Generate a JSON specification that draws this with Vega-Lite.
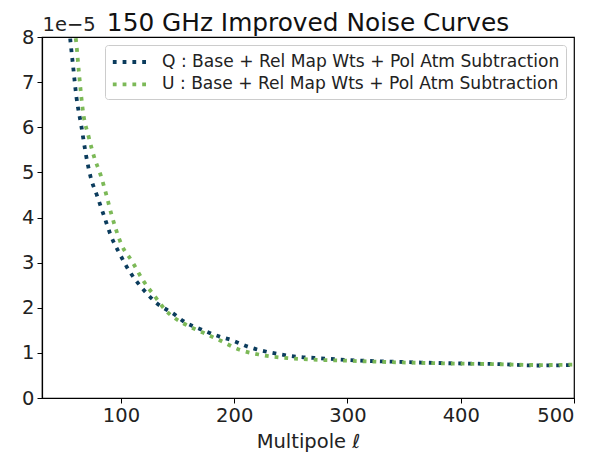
{
  "$schema": "https://vega.github.io/schema/vega-lite/v6.json",
  "autosize": {"type": "none"},
  "padding": {"left": 42, "top": 37, "right": 23, "bottom": 56},
  "width": 532,
  "height": 361,
  "background": "white",
  "title": {
    "text": "150 GHz Improved Noise Curves",
    "font": "DejaVu Sans",
    "fontSize": 24.8,
    "fontWeight": "normal",
    "color": "#111",
    "anchor": "middle",
    "offset": -22
  },
  "data": {
    "values": [
      {"series": "Q : Base + Rel Map Wts + Pol Atm Subtraction", "ell": 53.5, "noise": 8.4e-5},
      {"series": "Q : Base + Rel Map Wts + Pol Atm Subtraction", "ell": 55.6, "noise": 7.86e-5},
      {"series": "Q : Base + Rel Map Wts + Pol Atm Subtraction", "ell": 57.6, "noise": 7.39e-5},
      {"series": "Q : Base + Rel Map Wts + Pol Atm Subtraction", "ell": 60.6, "noise": 6.69e-5},
      {"series": "Q : Base + Rel Map Wts + Pol Atm Subtraction", "ell": 65.0, "noise": 6.03e-5},
      {"series": "Q : Base + Rel Map Wts + Pol Atm Subtraction", "ell": 69.4, "noise": 5.35e-5},
      {"series": "Q : Base + Rel Map Wts + Pol Atm Subtraction", "ell": 73.2, "noise": 4.90e-5},
      {"series": "Q : Base + Rel Map Wts + Pol Atm Subtraction", "ell": 79.1, "noise": 4.47e-5},
      {"series": "Q : Base + Rel Map Wts + Pol Atm Subtraction", "ell": 85.0, "noise": 4.04e-5},
      {"series": "Q : Base + Rel Map Wts + Pol Atm Subtraction", "ell": 90.9, "noise": 3.61e-5},
      {"series": "Q : Base + Rel Map Wts + Pol Atm Subtraction", "ell": 98.8, "noise": 3.20e-5},
      {"series": "Q : Base + Rel Map Wts + Pol Atm Subtraction", "ell": 107.7, "noise": 2.80e-5},
      {"series": "Q : Base + Rel Map Wts + Pol Atm Subtraction", "ell": 118.9, "noise": 2.43e-5},
      {"series": "Q : Base + Rel Map Wts + Pol Atm Subtraction", "ell": 131.2, "noise": 2.11e-5},
      {"series": "Q : Base + Rel Map Wts + Pol Atm Subtraction", "ell": 147.4, "noise": 1.85e-5},
      {"series": "Q : Base + Rel Map Wts + Pol Atm Subtraction", "ell": 154.7, "noise": 1.71e-5},
      {"series": "Q : Base + Rel Map Wts + Pol Atm Subtraction", "ell": 170.9, "noise": 1.52e-5},
      {"series": "Q : Base + Rel Map Wts + Pol Atm Subtraction", "ell": 187.1, "noise": 1.36e-5},
      {"series": "Q : Base + Rel Map Wts + Pol Atm Subtraction", "ell": 196.8, "noise": 1.29e-5},
      {"series": "Q : Base + Rel Map Wts + Pol Atm Subtraction", "ell": 213.0, "noise": 1.13e-5},
      {"series": "Q : Base + Rel Map Wts + Pol Atm Subtraction", "ell": 240.0, "noise": 0.97e-5},
      {"series": "Q : Base + Rel Map Wts + Pol Atm Subtraction", "ell": 257.7, "noise": 0.91e-5},
      {"series": "Q : Base + Rel Map Wts + Pol Atm Subtraction", "ell": 276.8, "noise": 0.88e-5},
      {"series": "Q : Base + Rel Map Wts + Pol Atm Subtraction", "ell": 302.0, "noise": 0.84e-5},
      {"series": "Q : Base + Rel Map Wts + Pol Atm Subtraction", "ell": 346.0, "noise": 0.80e-5},
      {"series": "Q : Base + Rel Map Wts + Pol Atm Subtraction", "ell": 390.0, "noise": 0.77e-5},
      {"series": "Q : Base + Rel Map Wts + Pol Atm Subtraction", "ell": 434.0, "noise": 0.75e-5},
      {"series": "Q : Base + Rel Map Wts + Pol Atm Subtraction", "ell": 466.8, "noise": 0.72e-5},
      {"series": "Q : Base + Rel Map Wts + Pol Atm Subtraction", "ell": 500.0, "noise": 0.73e-5},
      {"series": "U : Base + Rel Map Wts + Pol Atm Subtraction", "ell": 57.5, "noise": 8.4e-5},
      {"series": "U : Base + Rel Map Wts + Pol Atm Subtraction", "ell": 60.6, "noise": 7.86e-5},
      {"series": "U : Base + Rel Map Wts + Pol Atm Subtraction", "ell": 63.0, "noise": 7.19e-5},
      {"series": "U : Base + Rel Map Wts + Pol Atm Subtraction", "ell": 66.5, "noise": 6.35e-5},
      {"series": "U : Base + Rel Map Wts + Pol Atm Subtraction", "ell": 71.5, "noise": 5.79e-5},
      {"series": "U : Base + Rel Map Wts + Pol Atm Subtraction", "ell": 76.2, "noise": 5.35e-5},
      {"series": "U : Base + Rel Map Wts + Pol Atm Subtraction", "ell": 82.1, "noise": 4.94e-5},
      {"series": "U : Base + Rel Map Wts + Pol Atm Subtraction", "ell": 87.1, "noise": 4.50e-5},
      {"series": "U : Base + Rel Map Wts + Pol Atm Subtraction", "ell": 91.5, "noise": 4.08e-5},
      {"series": "U : Base + Rel Map Wts + Pol Atm Subtraction", "ell": 100.3, "noise": 3.41e-5},
      {"series": "U : Base + Rel Map Wts + Pol Atm Subtraction", "ell": 110.0, "noise": 3.02e-5},
      {"series": "U : Base + Rel Map Wts + Pol Atm Subtraction", "ell": 119.4, "noise": 2.61e-5},
      {"series": "U : Base + Rel Map Wts + Pol Atm Subtraction", "ell": 129.7, "noise": 2.26e-5},
      {"series": "U : Base + Rel Map Wts + Pol Atm Subtraction", "ell": 140.0, "noise": 1.93e-5},
      {"series": "U : Base + Rel Map Wts + Pol Atm Subtraction", "ell": 156.2, "noise": 1.64e-5},
      {"series": "U : Base + Rel Map Wts + Pol Atm Subtraction", "ell": 172.4, "noise": 1.45e-5},
      {"series": "U : Base + Rel Map Wts + Pol Atm Subtraction", "ell": 187.1, "noise": 1.28e-5},
      {"series": "U : Base + Rel Map Wts + Pol Atm Subtraction", "ell": 204.8, "noise": 1.07e-5},
      {"series": "U : Base + Rel Map Wts + Pol Atm Subtraction", "ell": 222.4, "noise": 0.96e-5},
      {"series": "U : Base + Rel Map Wts + Pol Atm Subtraction", "ell": 248.9, "noise": 0.88e-5},
      {"series": "U : Base + Rel Map Wts + Pol Atm Subtraction", "ell": 269.5, "noise": 0.85e-5},
      {"series": "U : Base + Rel Map Wts + Pol Atm Subtraction", "ell": 295.7, "noise": 0.83e-5},
      {"series": "U : Base + Rel Map Wts + Pol Atm Subtraction", "ell": 331.0, "noise": 0.80e-5},
      {"series": "U : Base + Rel Map Wts + Pol Atm Subtraction", "ell": 380.0, "noise": 0.77e-5},
      {"series": "U : Base + Rel Map Wts + Pol Atm Subtraction", "ell": 430.0, "noise": 0.75e-5},
      {"series": "U : Base + Rel Map Wts + Pol Atm Subtraction", "ell": 470.0, "noise": 0.73e-5},
      {"series": "U : Base + Rel Map Wts + Pol Atm Subtraction", "ell": 500.0, "noise": 0.74e-5}
    ]
  },
  "mark": {
    "type": "line",
    "clip": true,
    "interpolate": "monotone",
    "strokeWidth": 3.8,
    "strokeDash": [3.8, 6],
    "strokeCap": "butt"
  },
  "encoding": {
    "x": {
      "field": "ell",
      "type": "quantitative",
      "scale": {"domain": [30.3, 500], "nice": false, "zero": false},
      "axis": {
        "title": "Multipole ℓ",
        "values": [100, 200, 300, 400, 500],
        "titlePadding": 8
      }
    },
    "y": {
      "field": "noise",
      "type": "quantitative",
      "scale": {"domain": [0, 8e-5], "nice": false},
      "axis": {
        "title": "1e−5",
        "titleAngle": 0,
        "titleX": 0,
        "titleY": -3,
        "titleAlign": "left",
        "titleBaseline": "bottom",
        "values": [0, 1e-5, 2e-5, 3e-5, 4e-5, 5e-5, 6e-5, 7e-5, 8e-5],
        "labelExpr": "format(datum.value * 1e5, 'd')"
      }
    },
    "color": {
      "field": "series",
      "type": "nominal",
      "scale": {"range": ["#0b3c5d", "#7cb957"]},
      "legend": {
        "title": null,
        "orient": "top-right",
        "offset": 8,
        "symbolType": "M-2,0H2",
        "symbolSize": 331,
        "symbolOffset": 9,
        "symbolStrokeWidth": 3.8,
        "symbolDash": [3.8, 6],
        "labelFont": "DejaVu Sans",
        "labelFontSize": 17.1,
        "labelColor": "#222",
        "labelOffset": 20,
        "labelLimit": 600,
        "rowPadding": 2.3,
        "padding": 6,
        "strokeColor": "#cccccc",
        "fillColor": "white",
        "cornerRadius": 3
      }
    }
  },
  "config": {
    "view": {"stroke": "black", "strokeWidth": 1.2},
    "axis": {
      "grid": false,
      "domainColor": "black",
      "domainWidth": 1.2,
      "tickColor": "black",
      "tickSize": 5,
      "tickWidth": 1,
      "labelFont": "DejaVu Sans",
      "labelFontSize": 19.5,
      "labelColor": "#222",
      "labelPadding": 3,
      "titleFont": "DejaVu Sans",
      "titleFontSize": 19.5,
      "titleFontWeight": "normal",
      "titleColor": "#222"
    }
  }
}
